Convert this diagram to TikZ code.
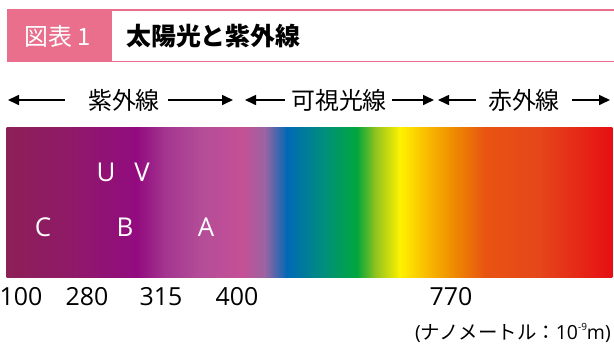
\documentclass[tikz,border=0pt]{standalone}
\usepackage{fontspec}
\setmainfont{Open Sans}
\newfontfamily\jp{Noto Sans CJK JP}
\usetikzlibrary{arrows.meta}
\definecolor{pk}{HTML}{E96F8D}
\definecolor{s0}{HTML}{8D1F58}
\definecolor{s1}{HTML}{8F1A68}
\definecolor{s2}{HTML}{920B80}
\definecolor{s3}{HTML}{A3358F}
\definecolor{s4}{HTML}{B34D98}
\definecolor{s5}{HTML}{C55096}
\definecolor{s6}{HTML}{9A64A2}
\definecolor{s7}{HTML}{0069B6}
\definecolor{s8}{HTML}{00907A}
\definecolor{s9}{HTML}{00A73C}
\definecolor{s10}{HTML}{8DC21F}
\definecolor{s11}{HTML}{FFF100}
\definecolor{s12}{HTML}{F7B500}
\definecolor{s13}{HTML}{EE8800}
\definecolor{s14}{HTML}{E85412}
\definecolor{s15}{HTML}{E5461A}
\definecolor{s16}{HTML}{E60F14}
\tikzset{
  arr/.style={line width=1.6bp,-{Triangle[length=11bp,width=10bp]}},
  band/.style={font=\jp\fontsize{24}{26}\selectfont,inner sep=0pt},
  num/.style={font=\fontsize{25}{28}\selectfont,inner sep=0pt},
  lbl/.style={font=\fontsize{26}{28}\selectfont,text=white,inner sep=0pt}
}
\begin{document}
\begin{tikzpicture}[x=1bp,y=-1bp]
\useasboundingbox (0,0) rectangle (614,347);
% title
\fill[pk] (7,9) rectangle (112,62);
\draw[pk,line width=2.5bp] (7,10) -- (614,10);
\draw[pk,line width=1.2bp] (7,61.5) -- (614,61.5);
\node[text=white,font=\jp\fontsize{24}{26}\selectfont,inner sep=0pt] (fig) at (58,36) {図表 1};
\node[anchor=west,font=\jp\bfseries\fontsize{25}{28}\selectfont,inner sep=0pt] (title) at (126,36) {太陽光と紫外線};
% spectrum
\foreach \xa/\ca/\xb/\cb in {7/s0/70/s1,70/s1/137/s2,137/s2/165/s3,165/s3/200/s4,200/s4/243/s5,243/s5/265/s6,265/s6/287/s7,287/s7/325/s8,325/s8/357/s9,357/s9/375/s10,375/s10/400/s11,400/s11/430/s12,430/s12/455/s13,455/s13/485/s14,485/s14/540/s15,540/s15/612/s16}
  \shade[left color=\ca,right color=\cb] (\xa-0.3,127) rectangle (\xb+0.3,277);
\node[lbl] (U) at (106,172) {U};
\node[lbl] (V) at (142,172) {V};
\node[lbl] (C) at (43,227) {C};
\node[lbl] (B) at (125,227) {B};
\node[lbl] (A) at (206,227) {A};
% bands
\node[band] (uv) at (124,100) {紫外線};
\node[band] (vis) at (339,100) {可視光線};
\node[band] (ir) at (524,100) {赤外線};
\coordinate (a1s) at (65,100); \coordinate (a1t) at (8,100);
\coordinate (a2s) at (168,100); \coordinate (a2t) at (233,100);
\coordinate (a3s) at (285,100); \coordinate (a3t) at (245,100);
\coordinate (a4s) at (392,100); \coordinate (a4t) at (434,100);
\coordinate (a5s) at (476,100); \coordinate (a5t) at (438,100);
\coordinate (a6s) at (572,100); \coordinate (a6t) at (610,100);
\draw[arr] (a1s) -- (a1t);
\draw[arr] (a2s) -- (a2t);
\draw[arr] (a3s) -- (a3t);
\draw[arr] (a4s) -- (a4t);
\draw[arr] (a5s) -- (a5t);
\draw[arr] (a6s) -- (a6t);
% numbers
\node[num] (n100) at (21,297) {100};
\node[num] (n280) at (87,297) {280};
\node[num] (n315) at (161,297) {315};
\node[num] (n400) at (237,297) {400};
\node[num] (n770) at (451,297) {770};
\node[anchor=east,inner sep=0pt,font=\fontsize{19.5}{21}\selectfont] (unit) at (611,333) {({\jp ナノメートル：}10\raisebox{0.5em}{\fontsize{10}{10}\selectfont -9}m)};
\end{tikzpicture}
\end{document}
